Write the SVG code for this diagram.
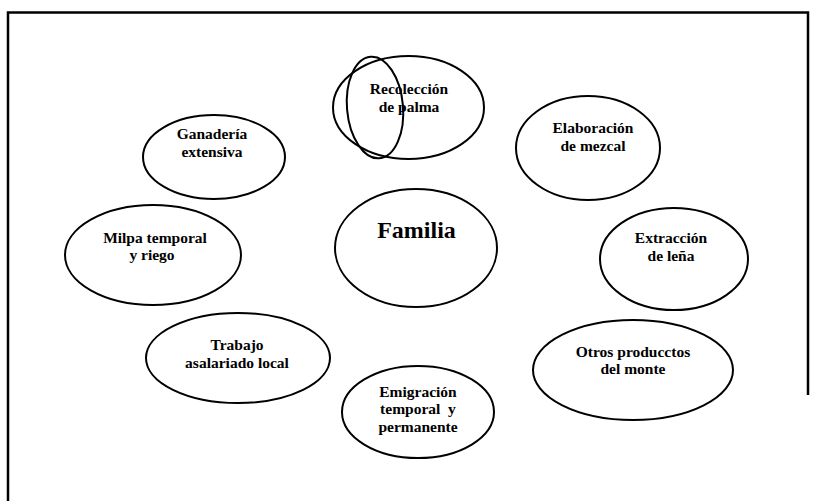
<svg xmlns="http://www.w3.org/2000/svg" width="818" height="501" viewBox="0 0 818 501">
<style>
.n{fill:#fff;stroke:#000;stroke-width:2}
.o{fill:none;stroke:#000;stroke-width:2}
.t{font-family:"Liberation Serif","Times New Roman",serif;font-weight:bold;font-size:15.5px;fill:#000;text-anchor:middle}
.b{stroke:#000;stroke-width:2.5;fill:none}
</style>
<rect width="818" height="501" fill="#fff"/>
<g id="frame">
<path class="b" d="M8,501 V12.5 H808 V395"/>
</g>
<g id="connectors"></g>
<g id="recoleccion">
<ellipse class="n" cx="408.5" cy="107.5" rx="75.5" ry="51.5"/>
<ellipse class="o" cx="375" cy="107.5" rx="28" ry="51" transform="rotate(-5 375 107.5)"/>
<text class="t" x="409" y="94">Recolección</text>
<text class="t" x="409" y="112">de palma</text>
</g>
<g id="ganaderia">
<ellipse class="n" cx="214" cy="157" rx="71" ry="42"/>
<text class="t" x="212" y="139">Ganadería</text>
<text class="t" x="212" y="157">extensiva</text>
</g>
<g id="elaboracion">
<ellipse class="n" cx="588" cy="148" rx="72" ry="52"/>
<text class="t" x="593" y="133">Elaboración</text>
<text class="t" x="593" y="151">de mezcal</text>
</g>
<g id="familia">
<ellipse class="n" cx="416" cy="248" rx="81" ry="59"/>
<text class="t" x="416.5" y="238" style="font-size:24px">Familia</text>
</g>
<g id="milpa">
<ellipse class="n" cx="153" cy="255" rx="88" ry="50"/>
<text class="t" x="155" y="243">Milpa temporal</text>
<text class="t" x="152" y="260">y riego</text>
</g>
<g id="extraccion">
<ellipse class="n" cx="674" cy="259" rx="74" ry="51"/>
<text class="t" x="671" y="243">Extracción</text>
<text class="t" x="671" y="261">de leña</text>
</g>
<g id="trabajo">
<ellipse class="n" cx="238" cy="358" rx="92" ry="45"/>
<text class="t" x="237" y="350">Trabajo</text>
<text class="t" x="237" y="368">asalariado local</text>
</g>
<g id="otros">
<ellipse class="n" cx="633" cy="370" rx="100" ry="50"/>
<text class="t" x="633" y="357">Otros producctos</text>
<text class="t" x="633" y="374">del monte</text>
</g>
<g id="emigracion">
<ellipse class="n" cx="418" cy="412" rx="76" ry="46"/>
<text class="t" x="418" y="397">Emigración</text>
<text class="t" x="418" y="414" xml:space="preserve">temporal  y</text>
<text class="t" x="418" y="432">permanente</text>
</g>
</svg>
